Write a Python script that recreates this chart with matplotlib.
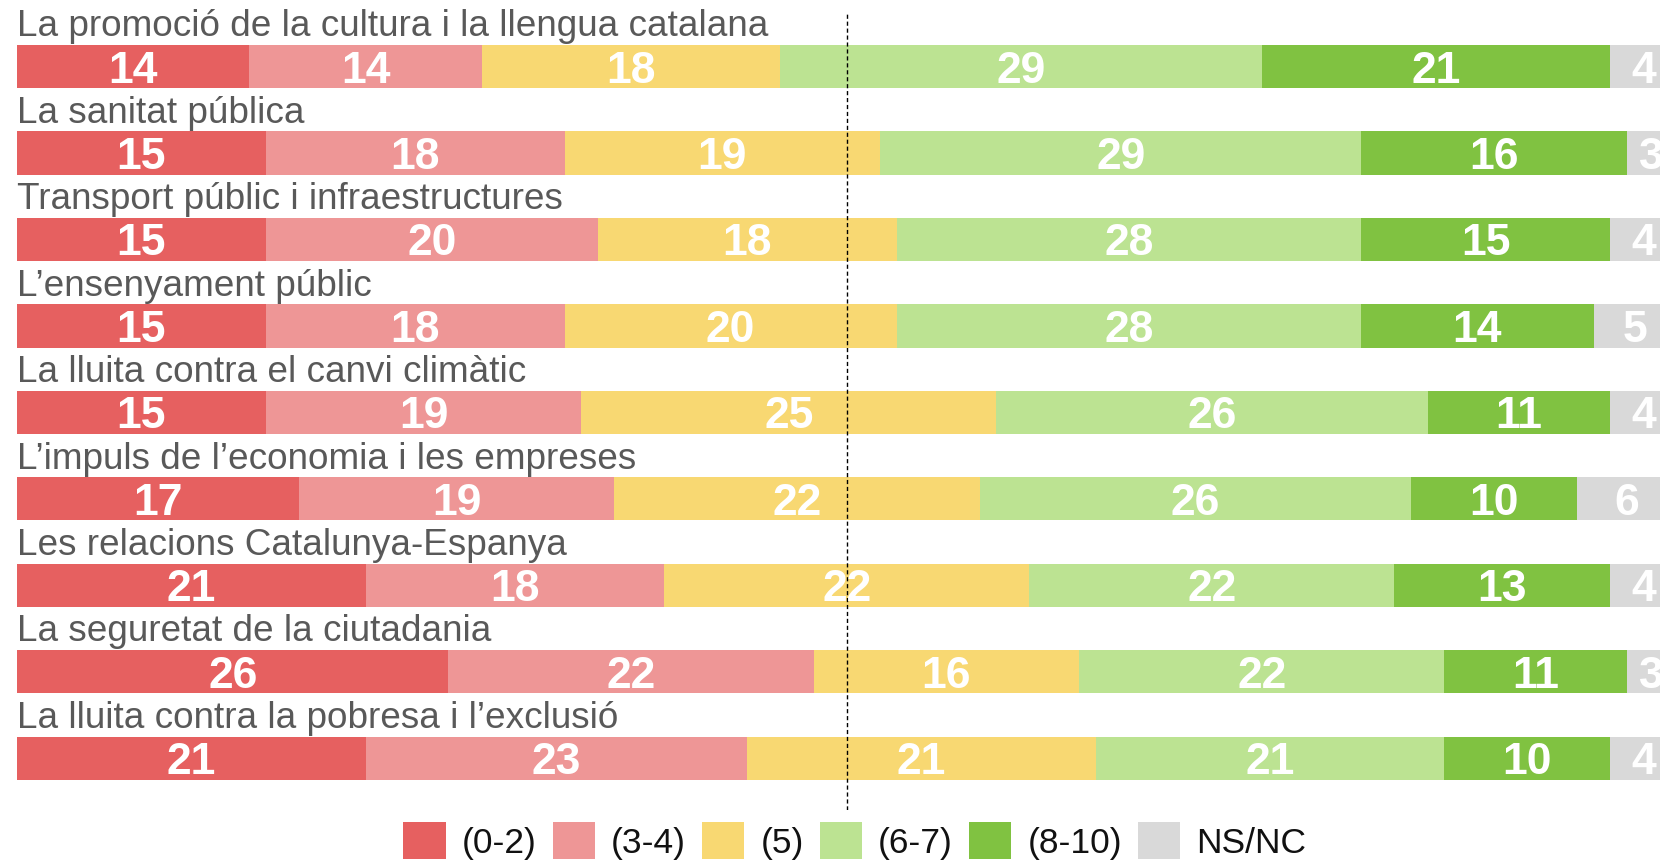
import numpy as np
import matplotlib
matplotlib.use("Agg")
import matplotlib.pyplot as plt
from matplotlib.patches import Patch

plt.rcParams['font.family'] = ['Liberation Sans', 'DejaVu Sans']

temes = ["La promoció de la cultura i la llengua catalana",
         "La sanitat pública",
         "Transport públic i infraestructures",
         "L\u2019ensenyament públic",
         "La lluita contra el canvi climàtic",
         "L\u2019impuls de l\u2019economia i les empreses",
         "Les relacions Catalunya-Espanya",
         "La seguretat de la ciutadania",
         "La lluita contra la pobresa i l\u2019exclusió"]

categories = ["(0-2)", "(3-4)", "(5)", "(6-7)", "(8-10)", "NS/NC"]
colors = ["#E66060", "#EE9696", "#F8D872", "#BCE392", "#80C241", "#D9D9D9"]

v_0_2 = [14, 15, 15, 15, 15, 17, 21, 26, 21]
v_3_4 = [14, 18, 20, 18, 19, 19, 18, 22, 23]
v_5 = [18, 19, 18, 20, 25, 22, 22, 16, 21]
v_6_7 = [29, 29, 28, 28, 26, 26, 22, 22, 21]
v_8_10 = [21, 16, 15, 14, 11, 10, 13, 11, 10]
v_nsnc = [4, 3, 4, 5, 4, 6, 4, 3, 4]

series = [v_0_2, v_3_4, v_5, v_6_7, v_8_10, v_nsnc]

fig = plt.figure(figsize=(16.6, 8.63), dpi=100)
ax = fig.add_axes([17 / 1660, 1 - 810 / 863, 1 - 17 / 1660, (810 - 13) / 863])

y = np.arange(len(temes))
bar_h = 0.5
left = np.zeros(len(temes))
for vals, col in zip(series, colors):
    vals = np.array(vals, dtype=float)
    ax.barh(y, vals, left=left, height=bar_h, color=col, zorder=1)
    for yi, (l, v) in enumerate(zip(left, vals)):
        ax.text(l + v / 2, yi, f"{int(v)}", ha="center", va="center_baseline",
                color="white", fontsize=32, fontweight="bold", zorder=3)
    left += vals

for yi, t in enumerate(temes):
    ax.text(0, yi - bar_h / 2 - 0.1, t, ha="left", va="baseline",
            fontsize=26.6, color="#595959", zorder=3)

ax.axvline(50, color="black", lw=1, ls=(0, (3, 2)), zorder=2)

ax.set_xlim(0, 99)
ax.set_ylim(8.60, -0.62)
ax.axis("off")

handles = [Patch(facecolor=c, edgecolor="none") for c in colors]
fig.legend(handles, categories, loc="lower center", bbox_to_anchor=(0.515, 0.004),
           ncol=6, frameon=False, fontsize=25.5, handlelength=1.2, handleheight=1.2,
           handletextpad=0.45, columnspacing=0.45, borderaxespad=0, borderpad=0,
           labelcolor="#111111")

fig.savefig("out.png", dpi=100)
